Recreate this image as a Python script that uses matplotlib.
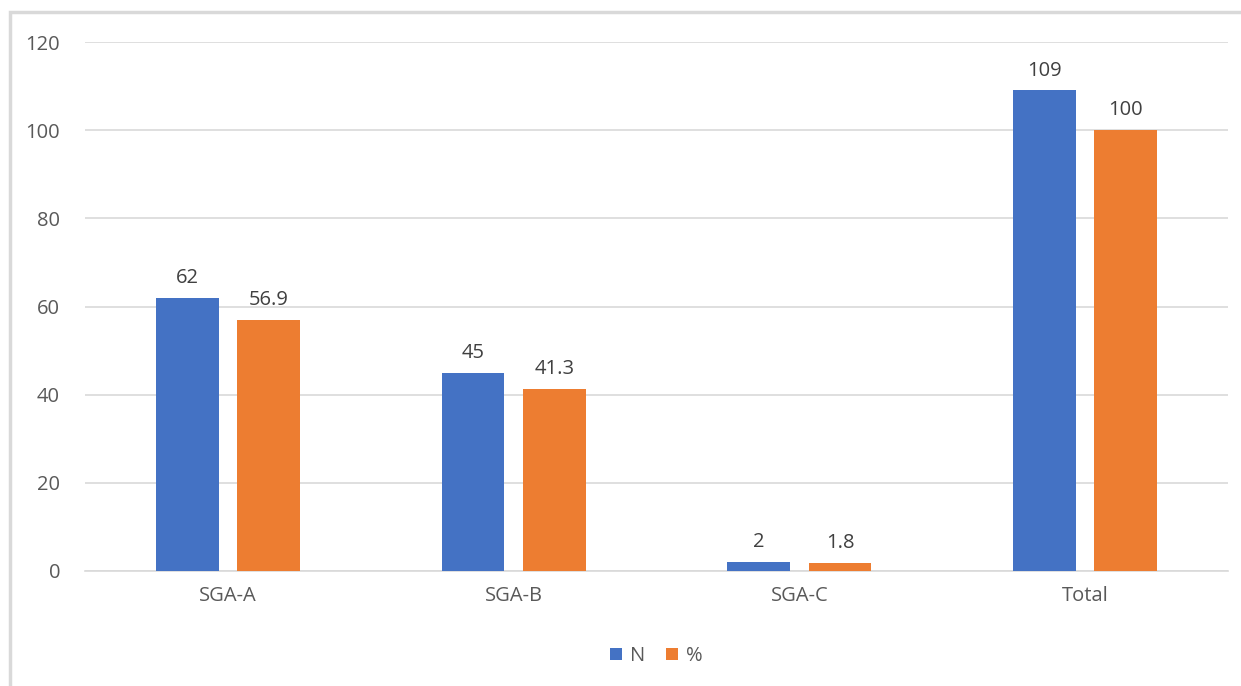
import numpy as np
import matplotlib.pyplot as plt
from matplotlib.patches import Rectangle

# ::: Data :::
categories = ["SGA-A", "SGA-B", "SGA-C", "Total"]
n_values = [62, 45, 2, 109]
pct_values = [56.9, 41.3, 1.8, 100]
n_labels = ["62", "45", "2", "109"]
pct_labels = ["56.9", "41.3", "1.8", "100"]

blue = "#4472C4"
orange = "#ED7D31"
plt.rcParams['font.family'] = ['Open Sans', 'DejaVu Sans']
fs = 14.5

fig = plt.figure(figsize=(12.41, 6.86), dpi=100)
fig.patches.append(Rectangle((10 / 1241, -0.01), 1.1, 1 - 12 / 686 + 0.01, transform=fig.transFigure,
                             fill=False, edgecolor="#d9d9d9", linewidth=2.5, zorder=0))

ax = fig.add_axes([85 / 1241, 1 - 571 / 686, 1143 / 1241, 529 / 686])

x = np.arange(len(categories))
w = 0.22
off = 0.142
b1 = ax.bar(x - off, n_values, w, color=blue, label="N", zorder=3)
b2 = ax.bar(x + off, pct_values, w, color=orange, label="%", zorder=3)

# value labels above the bars
for bars, labels in [(b1, n_labels), (b2, pct_labels)]:
    for bar, lab in zip(bars, labels):
        ax.annotate(lab, (bar.get_x() + bar.get_width() / 2, bar.get_height()), xytext=(0, 7),
                    textcoords="offset points", ha="center", va="bottom", fontsize=fs, color="#404040")

ax.set_xlim(-0.5, len(categories) - 0.5)
ax.set_ylim(0, 120)
ax.set_yticks(np.arange(0, 121, 20))
ax.set_xticks(x)
ax.set_xticklabels(categories)
ax.tick_params(axis="both", length=0, labelsize=fs, labelcolor="#595959")
ax.tick_params(axis="y", pad=18)
ax.tick_params(axis="x", pad=11)
ax.grid(axis="y", color="#d9d9d9", linewidth=1.2, zorder=0)
for s in ["top", "right", "left"]:
    ax.spines[s].set_visible(False)
ax.spines["bottom"].set_color("#d9d9d9")
ax.spines["bottom"].set_linewidth(1.2)

ax.legend(loc="center", bbox_to_anchor=(0.5, -(656 - 571) / 529.0), ncol=2, frameon=False,
          fontsize=fs, labelcolor="#595959", handlelength=0.6, handleheight=0.6, columnspacing=1.0,
          handletextpad=0.4)

fig.savefig("out.png", dpi=100)
